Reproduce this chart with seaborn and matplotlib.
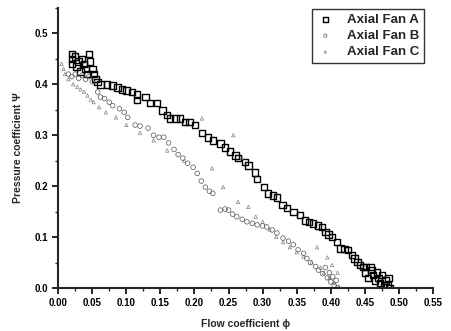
import matplotlib
matplotlib.use("Agg")
import matplotlib.pyplot as plt
import seaborn as sns
from matplotlib.ticker import MultipleLocator

# Axial Fan A (squares)
phi_a = [0.020, 0.020, 0.020, 0.025, 0.027, 0.030, 0.033, 0.035, 0.038, 0.040,
         0.043, 0.045, 0.047, 0.050, 0.052, 0.055, 0.058, 0.062, 0.072, 0.080,
         0.087, 0.094, 0.100, 0.108, 0.116, 0.116, 0.128, 0.135, 0.145, 0.153,
         0.160, 0.164, 0.172, 0.179, 0.186, 0.193, 0.201, 0.211, 0.220, 0.227,
         0.238, 0.245, 0.252, 0.260, 0.264, 0.274, 0.279, 0.289, 0.292, 0.302,
         0.308, 0.315, 0.321, 0.329, 0.336, 0.345, 0.355, 0.362, 0.368, 0.374,
         0.381, 0.387, 0.392, 0.397, 0.402, 0.409, 0.414, 0.420, 0.425, 0.431,
         0.435, 0.439, 0.443, 0.447, 0.452, 0.458, 0.450, 0.455, 0.460, 0.462,
         0.465, 0.468, 0.470, 0.472, 0.475, 0.478, 0.480, 0.483, 0.485, 0.486]
psi_a = [0.460, 0.450, 0.440, 0.455, 0.435, 0.445, 0.425, 0.450, 0.440, 0.430,
         0.420, 0.460, 0.445, 0.430, 0.420, 0.410, 0.405, 0.400, 0.400, 0.398,
         0.394, 0.390, 0.388, 0.385, 0.380, 0.369, 0.375, 0.363, 0.363, 0.349,
         0.340, 0.333, 0.333, 0.333, 0.326, 0.326, 0.320, 0.304, 0.296, 0.290,
         0.284, 0.276, 0.268, 0.260, 0.255, 0.247, 0.241, 0.227, 0.214, 0.198,
         0.186, 0.182, 0.178, 0.163, 0.157, 0.149, 0.143, 0.133, 0.130, 0.127,
         0.123, 0.120, 0.110, 0.105, 0.100, 0.090, 0.078, 0.077, 0.075, 0.065,
         0.058, 0.051, 0.045, 0.041, 0.041, 0.041, 0.030, 0.020, 0.035, 0.025,
         0.015, 0.030, 0.020, 0.010, 0.025, 0.005, 0.015, 0.005, 0.020, 0.000]

# Axial Fan B (circles)
phi_b = [0.015, 0.020, 0.025, 0.030, 0.035, 0.040, 0.045, 0.050, 0.058, 0.062,
         0.068, 0.075, 0.080, 0.090, 0.097, 0.102, 0.113, 0.120, 0.132, 0.140,
         0.148, 0.155, 0.162, 0.170, 0.176, 0.183, 0.190, 0.198, 0.204, 0.210,
         0.216, 0.222, 0.227, 0.238, 0.245, 0.250, 0.256, 0.262, 0.270, 0.277,
         0.285, 0.292, 0.300, 0.306, 0.314, 0.321, 0.330, 0.338, 0.345, 0.352,
         0.360, 0.365, 0.370, 0.378, 0.382, 0.388, 0.392, 0.395, 0.398, 0.400,
         0.403, 0.405, 0.408, 0.410]
psi_b = [0.420, 0.415, 0.420, 0.412, 0.418, 0.410, 0.415, 0.405, 0.385, 0.375,
         0.372, 0.365, 0.358, 0.352, 0.345, 0.335, 0.320, 0.318, 0.314, 0.300,
         0.296, 0.296, 0.285, 0.272, 0.262, 0.255, 0.245, 0.237, 0.225, 0.210,
         0.198, 0.190, 0.186, 0.153, 0.155, 0.153, 0.145, 0.140, 0.135, 0.130,
         0.127, 0.124, 0.122, 0.120, 0.114, 0.108, 0.098, 0.092, 0.085, 0.075,
         0.068, 0.058, 0.050, 0.042, 0.035, 0.028, 0.040, 0.020, 0.030, 0.012,
         0.022, 0.005, 0.015, 0.000]

# Axial Fan C (triangles)
phi_c = [0.005, 0.008, 0.010, 0.015, 0.022, 0.028, 0.033, 0.038, 0.043, 0.048,
         0.052, 0.060, 0.070, 0.085, 0.100, 0.120, 0.140, 0.160, 0.185, 0.211,
         0.226, 0.242, 0.257, 0.264, 0.270, 0.279, 0.290, 0.300, 0.310, 0.320,
         0.330, 0.340, 0.350, 0.360, 0.372, 0.380, 0.385, 0.390, 0.395, 0.398,
         0.402, 0.405, 0.410, 0.412]
psi_c = [0.440, 0.430, 0.420, 0.410, 0.400, 0.395, 0.390, 0.385, 0.378, 0.370,
         0.365, 0.355, 0.345, 0.335, 0.320, 0.305, 0.290, 0.270, 0.250, 0.333,
         0.235, 0.198, 0.300, 0.169, 0.255, 0.159, 0.140, 0.130, 0.115, 0.100,
         0.090, 0.080, 0.070, 0.062, 0.050, 0.080, 0.040, 0.030, 0.060, 0.020,
         0.045, 0.010, 0.030, 0.002]

sns.set_style("ticks")
plt.rcParams["font.family"] = ["Liberation Sans", "DejaVu Sans"]

fig = plt.figure(figsize=(4.51, 3.31), dpi=100)
ax = fig.add_axes([0.129, 0.130, 0.831, 0.846])

sns.scatterplot(x=phi_a, y=psi_a, marker="s", s=22, facecolors="none",
                edgecolors="black", linewidths=1.0, label="Axial Fan A", ax=ax)
sns.scatterplot(x=phi_b, y=psi_b, marker="o", s=11, facecolors="none",
                edgecolors="#555555", linewidths=0.5, label="Axial Fan B", ax=ax)
sns.scatterplot(x=phi_c, y=psi_c, marker="^", s=6, facecolors="none",
                edgecolors="#666666", linewidths=0.4, label="Axial Fan C", ax=ax)

ax.set_xlim(0, 0.55)
ax.set_ylim(0, 0.55)
ax.xaxis.set_minor_locator(MultipleLocator(0.025))
ax.yaxis.set_minor_locator(MultipleLocator(0.05))
ax.set_xticks([0.0, 0.05, 0.1, 0.15, 0.2, 0.25, 0.3, 0.35, 0.4, 0.45, 0.5, 0.55])
ax.set_xticklabels(["0.00", "0.05", "0.10", "0.15", "0.20", "0.25", "0.30",
                    "0.35", "0.40", "0.45", "0.50", "0.55"])
ax.set_yticks([0.0, 0.1, 0.2, 0.3, 0.4, 0.5])
ax.set_yticklabels(["0.0", "0.1", "0.2", "0.3", "0.4", "0.5"])
ax.tick_params(which="major", direction="out", length=4, width=1.2,
               labelsize=7, colors="black")
ax.tick_params(which="minor", direction="out", length=2, width=1.0)
for lab in ax.get_xticklabels() + ax.get_yticklabels():
    lab.set_fontweight("bold")

sns.despine(ax=ax)
ax.spines["left"].set_linewidth(1.5)
ax.spines["bottom"].set_linewidth(1.5)

ax.set_xlabel("Flow coefficient \u03d5", fontsize=7.5, fontweight="bold", labelpad=8)
ax.set_ylabel("Pressure coefficient \u03a8", fontsize=7.5, fontweight="bold", labelpad=8)

leg = ax.legend(loc="upper right", bbox_to_anchor=(0.976, 0.996), borderaxespad=0,
                fontsize=9.5, frameon=True, fancybox=False, edgecolor="black",
                markerscale=0.7, handlelength=1.3, handletextpad=1.0,
                borderpad=0.35, labelspacing=0.3)
leg.get_frame().set_linewidth(1.0)
for t in leg.get_texts():
    t.set_fontweight("bold")

fig.savefig("out.png", dpi=100)
